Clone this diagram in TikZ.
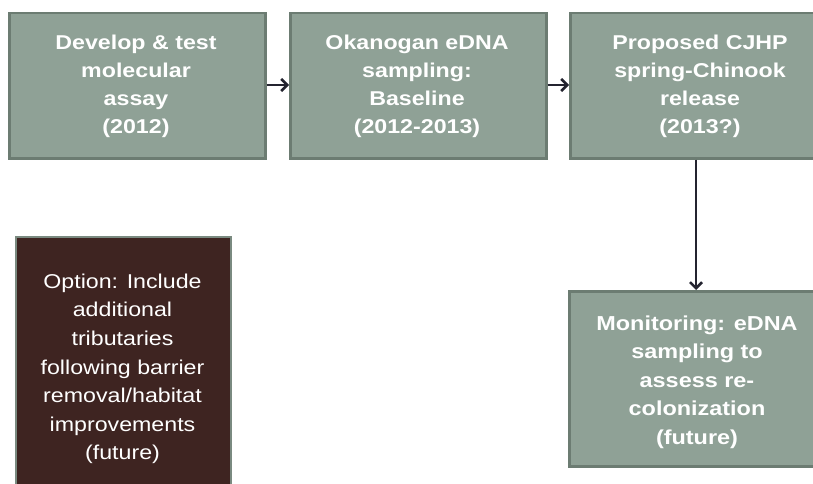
\documentclass[tikz,border=0pt]{standalone}
\usepackage{fontspec}
\setmainfont{Liberation Sans}[FakeStretch=1.16]
\usetikzlibrary{arrows.meta}
\definecolor{boxgreen}{RGB}{143,161,150}
\definecolor{boxedge}{RGB}{108,124,114}
\definecolor{darkbrown}{RGB}{62,36,33}
\definecolor{brownedge}{RGB}{122,138,128}
\definecolor{arrowc}{RGB}{36,36,48}
\begin{document}
\begin{tikzpicture}[x=1pt,y=-1pt,
  gbox/.style={draw=boxedge, fill=boxgreen, line width=2.5pt, inner sep=0pt, anchor=north west},
  bbox/.style={draw=brownedge, fill=darkbrown, line width=2pt, inner sep=0pt, anchor=north west},
  gtxt/.style={text=white, font=\fontsize{20}{27.9}\selectfont\bfseries, align=center, inner sep=0pt},
  mtxt/.style={text=white, font=\fontsize{20.2}{28.4}\selectfont\bfseries, align=center, inner sep=0pt},
  btxt/.style={text=white, font=\fontsize{20}{28.6}\selectfont, align=center, inner sep=0pt},
  conn/.style={draw=arrowc, line width=2.5pt, -{Straight Barb[length=6pt,width=12pt]}}]
\useasboundingbox (0,0) rectangle (813,484);
% boxes
\node[gbox, minimum width=256pt, minimum height=145pt] (b1) at (8,12) {};
\node[gbox, minimum width=256pt, minimum height=145pt] (b2) at (289,12) {};
\node[gbox, minimum width=256pt, minimum height=145pt] (b3) at (569,12) {};
\node[gbox, minimum width=257pt, minimum height=175pt] (b4) at (568,290) {};
\node[bbox, minimum width=215pt, minimum height=252pt] (b5) at (15,236) {};
% texts
\node[gtxt] (t1) at (136,86.5) {Develop \& test\\molecular\\assay\\(2012)};
\node[gtxt] (t2) at (417,86.5) {Okanogan eDNA\\sampling:\\Baseline\\(2012-2013)};
\node[gtxt] (t3) at (700,86.5) {Proposed CJHP\\spring-Chinook\\release\\(2013?)};
\node[mtxt] (t4) at (697,382) {Monitoring: eDNA\\sampling to\\assess re-\\colonization\\(future)};
\node[btxt] (t5) at (122.5,369) {Option: Include\\additional\\tributaries\\following barrier\\removal/habitat\\improvements\\(future)};
% connectors
\draw[conn] (b1.east |- 0,85) -- (b2.west |- 0,85);
\draw[conn] (b2.east |- 0,85) -- (b3.west |- 0,85);
\draw[conn] (b3.south -| 696,0) -- (b4.north -| 696,0);
\end{tikzpicture}
\end{document}
